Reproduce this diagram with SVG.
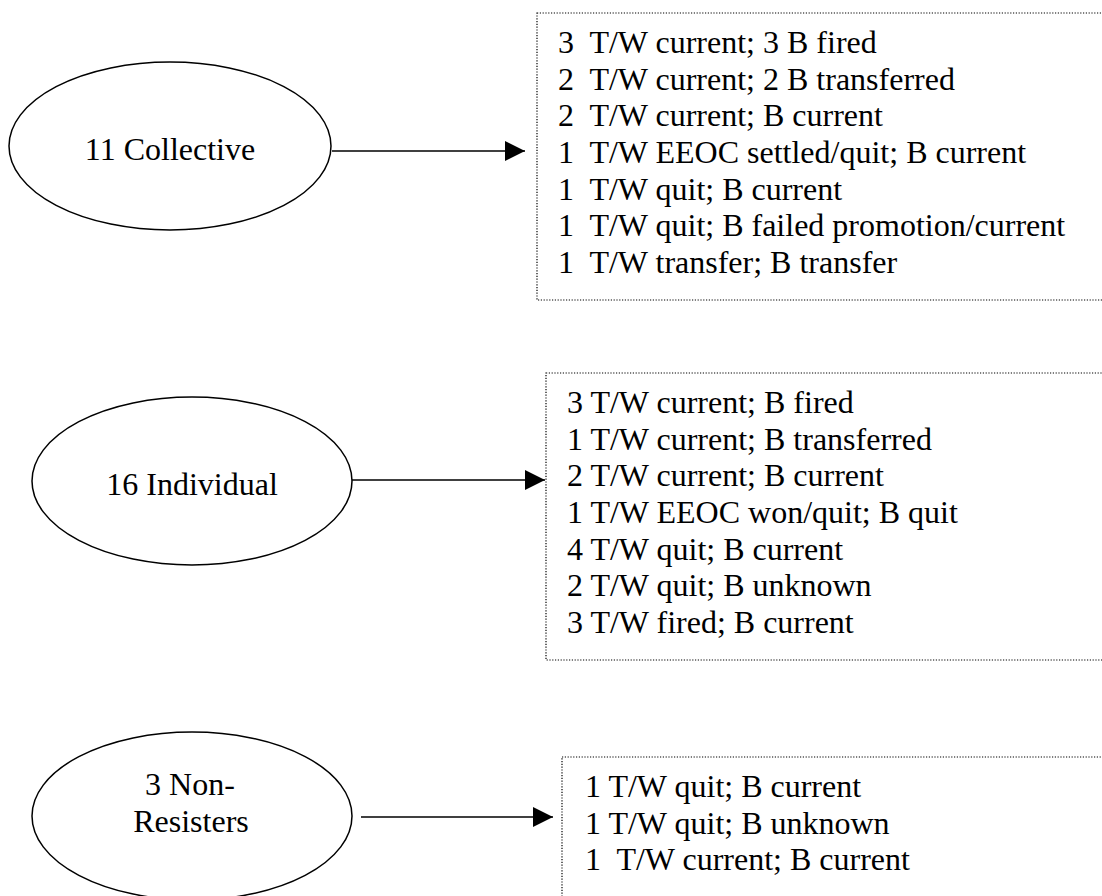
<svg xmlns="http://www.w3.org/2000/svg" width="1102" height="896" viewBox="0 0 1102 896">
<style>
text { font-family: "Liberation Serif", Tinos, "Times New Roman", Times, "DejaVu Serif", serif; font-size: 32px; fill: #000; }
.node { fill: #fff; stroke: #000; stroke-width: 1.5; }
.box { fill: #fff; stroke: #000; stroke-width: 1.2; stroke-dasharray: 1.2 1.6; }
.edge { stroke: #000; stroke-width: 1.6; fill: none; }
.mid { text-anchor: middle; }
</style>
<defs>
<marker id="arrow" markerUnits="userSpaceOnUse" markerWidth="20" markerHeight="20" refX="20" refY="10" orient="auto">
<path d="M0,0 L20,10 L0,20 Z" fill="#000"/>
</marker>
</defs>
<rect width="1102" height="896" fill="#fff"/>

<g id="collective">
<ellipse class="node" cx="170" cy="146" rx="161" ry="84"/>
<text class="mid" x="170" y="160" font-family="Liberation Serif, serif">11 Collective</text>
</g>
<g id="collective-outcomes">
<rect class="box" x="537" y="13" width="580" height="287"/>
<text xml:space="preserve" x="558" y="53">3  T/W current; 3 B fired</text>
<text xml:space="preserve" x="558" y="89.7">2  T/W current; 2 B transferred</text>
<text xml:space="preserve" x="558" y="126.3">2  T/W current; B current</text>
<text xml:space="preserve" x="558" y="163">1  T/W EEOC settled/quit; B current</text>
<text xml:space="preserve" x="558" y="199.7">1  T/W quit; B current</text>
<text xml:space="preserve" x="558" y="236.3">1  T/W quit; B failed promotion/current</text>
<text xml:space="preserve" x="558" y="273">1  T/W transfer; B transfer</text>
</g>

<g id="individual">
<ellipse class="node" cx="192" cy="481" rx="160" ry="84"/>
<text class="mid" x="192" y="495">16 Individual</text>
</g>
<g id="individual-outcomes">
<rect class="box" x="546" y="373" width="570" height="287"/>
<text x="567" y="413">3 T/W current; B fired</text>
<text x="567" y="449.7">1 T/W current; B transferred</text>
<text x="567" y="486.3">2 T/W current; B current</text>
<text x="567" y="523">1 T/W EEOC won/quit; B quit</text>
<text x="567" y="559.7">4 T/W quit; B current</text>
<text x="567" y="596.3">2 T/W quit; B unknown</text>
<text x="567" y="633">3 T/W fired; B current</text>
</g>

<g id="non-resisters">
<ellipse class="node" cx="192" cy="816" rx="160" ry="84"/>
<text class="mid" x="190" y="795">3 Non-</text>
<text class="mid" x="191" y="832">Resisters</text>
</g>
<g id="non-resisters-outcomes">
<rect class="box" x="562" y="757" width="560" height="200"/>
<text x="585" y="797">1 T/W quit; B current</text>
<text x="585" y="833.7">1 T/W quit; B unknown</text>
<text xml:space="preserve" x="585" y="870.3">1  T/W current; B current</text>
</g>

<g id="connectors">
<line class="edge" x1="332" y1="151" x2="525" y2="151" marker-end="url(#arrow)"/>
<line class="edge" x1="352" y1="480" x2="545" y2="480" marker-end="url(#arrow)"/>
<line class="edge" x1="361" y1="817" x2="553" y2="817" marker-end="url(#arrow)"/>
</g>
</svg>
